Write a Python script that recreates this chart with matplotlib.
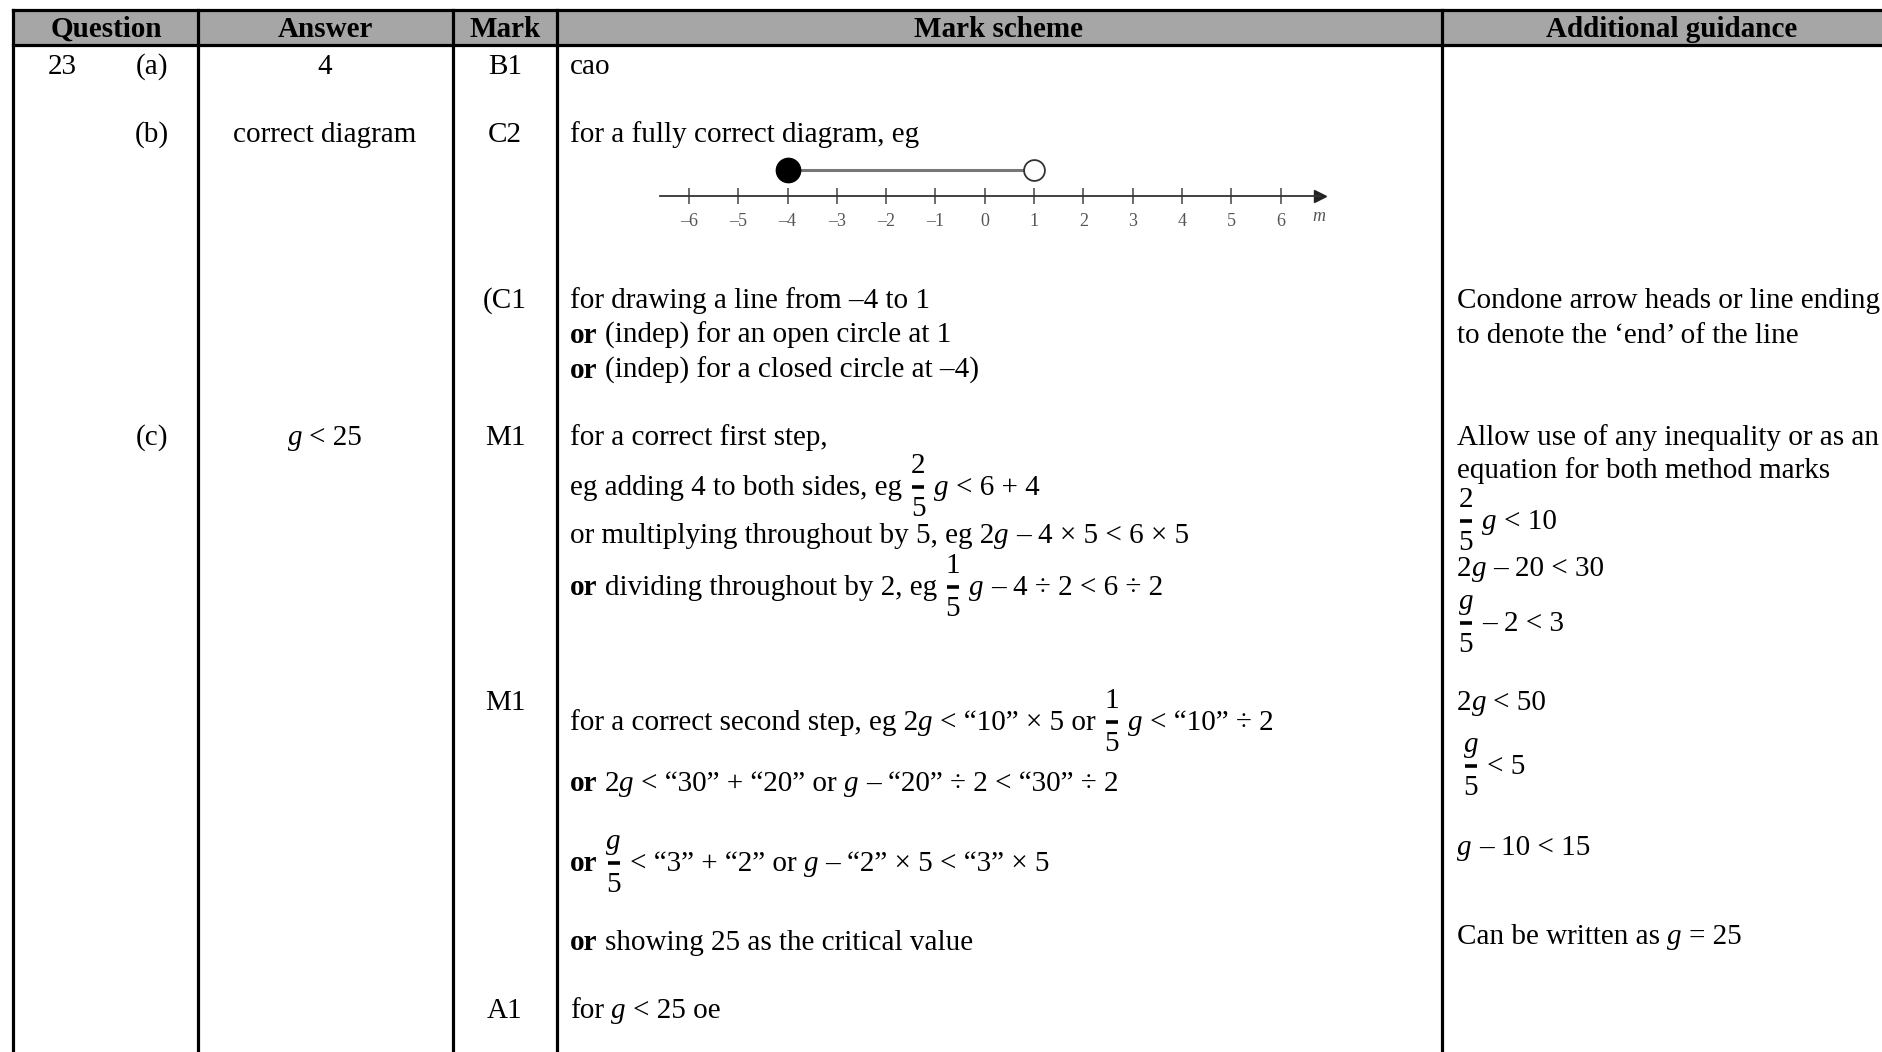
import matplotlib.pyplot as plt
from matplotlib.patches import Rectangle

# page is 1883 x 1052 px, drawn at dpi 100 so 1 data unit = 1 pixel
W, H = 1883, 1052
SERIF = "Liberation Serif"
FS = 21.0

# table layout (pixels)
col_edges = [13.5, 198, 453.5, 557, 1442]
top_y, head_y = 10, 44.5
headers = ["Question", "Answer", "Mark", "Mark scheme", "Additional guidance"]
header_x = [106, 325, 505, 999, 1672]

# number line in part (b)
nl_ticks = list(range(-6, 7))
nl_labels = [("\u2013%d" % -t) if t < 0 else str(t) for t in nl_ticks]
nl_closed = -4
nl_open = 1


def F(n, d, st="r"):
    return ("/", n, d, st)


g = ("g", "i")

# question / answer / mark columns: (baseline, text parts)
question_no = [(74, [("23", "r")])]
parts = [(74, [("(a)", "r")]), (142, [("(b)", "r")]), (445, [("(c)", "r")])]
answers = [(74, [("4", "r")]),
           (142, [("correct diagram", "r")]),
           (445, [g, (" < 25", "r")])]
marks = [(74, [("B1", "r")]), (142, [("C2", "r")]), (308, [("(C1", "r")]),
         (445, [("M1", "r")]), (710, [("M1", "r")]), (1018, [("A1", "r")])]

scheme = [
    (74, [("cao", "r")]),
    (142, [("for a fully correct diagram, eg", "r")]),
    (308, [("for drawing a line from \u20134 to 1", "r")]),
    (343, [("or", "b"), (" (indep) for an open circle at 1", "r")]),
    (377.5, [("or", "b"), (" (indep) for a closed circle at \u20134)", "r")]),
    (445, [("for a correct first step,", "r")]),
    (495, [("eg adding 4 to both sides, eg ", "r"), F("2", "5"), (" ", "r"), g,
           (" < 6 + 4", "r")]),
    (543, [("or multiplying throughout by 5, eg 2", "r"), g,
           (" \u2013 4 \u00d7 5 < 6 \u00d7 5", "r")]),
    (595, [("or", "b"), (" dividing throughout by 2, eg ", "r"), F("1", "5"), (" ", "r"), g,
           (" \u2013 4 \u00f7 2 < 6 \u00f7 2", "r")]),
    (730, [("for a correct second step, eg 2", "r"), g,
           (" < \u201c10\u201d \u00d7 5 or ", "r"), F("1", "5"), (" ", "r"), g,
           (" < \u201c10\u201d \u00f7 2", "r")]),
    (791, [("or", "b"), (" 2", "r"), g, (" < \u201c30\u201d + \u201c20\u201d or ", "r"), g,
           (" \u2013 \u201c20\u201d \u00f7 2 < \u201c30\u201d \u00f7 2", "r")]),
    (871, [("or", "b"), (" ", "r"), F("g", "5", "i"),
           (" < \u201c3\u201d + \u201c2\u201d or ", "r"), g,
           (" \u2013 \u201c2\u201d \u00d7 5 < \u201c3\u201d \u00d7 5", "r")]),
    (950, [("or", "b"), (" showing 25 as the critical value", "r")]),
    (1018, [("for ", "r"), g, (" < 25 oe", "r")]),
]

guidance = [
    (308, 1457, [("Condone arrow heads or line ending", "r")]),
    (343, 1457, [("to denote the \u2018end\u2019 of the line", "r")]),
    (445, 1457, [("Allow use of any inequality or as an", "r")]),
    (478, 1457, [("equation for both method marks", "r")]),
    (529, 1457, [F("2", "5"), (" ", "r"), g, (" < 10", "r")]),
    (576, 1457, [("2", "r"), g, (" \u2013 20 < 30", "r")]),
    (631, 1457, [F("g", "5", "i"), (" \u2013 2 < 3", "r")]),
    (710, 1457, [("2", "r"), g, (" < 50", "r")]),
    (774, 1462, [F("g", "5", "i"), (" < 5", "r")]),
    (855, 1457, [g, (" \u2013 10 < 15", "r")]),
    (944, 1457, [("Can be written as ", "r"), g, (" = 25", "r")]),
]

fig = plt.figure(figsize=(W / 100, H / 100), dpi=100)
ax = fig.add_axes([0, 0, 1, 1])
ax.set_xlim(0, W)
ax.set_ylim(H, 0)
ax.axis("off")
renderer = fig.canvas.get_renderer()


def font(st, size=FS):
    return dict(family=SERIF, fontsize=size,
                fontweight="bold" if st == "b" else "normal",
                fontstyle="italic" if st == "i" else "normal")


_cache = {}


def adv(s, st):
    # advance width in px, spaces included
    if not s:
        return 0.0
    key = (s, st)
    if key not in _cache:
        t = ax.text(0, 0, "|" + s + "|", **font(st))
        w = t.get_window_extent(renderer).width
        t.remove()
        t = ax.text(0, 0, "||", **font(st))
        w0 = t.get_window_extent(renderer).width
        t.remove()
        _cache[key] = w - w0
    return _cache[key]


def part_width(p):
    if p[0] == "/":
        return max(adv(p[1], p[3]), adv(p[2], "r")) + 3
    return adv(p[0], p[1])


def draw_line(x, y, line, ha="left"):
    if ha == "center":
        x = x - sum(part_width(p) for p in line) / 2
    for p in line:
        w = part_width(p)
        if p[0] == "/":
            cx = x + w / 2
            ax.text(cx, y - 22, p[1], ha="center", va="baseline", **font(p[3]))
            ax.text(cx, y + 21, p[2], ha="center", va="baseline", **font("r"))
            ax.plot([cx - 6, cx + 6], [y - 8, y - 8], color="black", lw=2.6,
                    solid_capstyle="butt")
        else:
            s, st = p
            lead = len(s) - len(s.lstrip(" "))
            if s.strip():
                ax.text(x + adv(s[:lead], st), y, s.strip(), ha="left", va="baseline",
                        **font(st))
        x += w


# header band and rules
ax.add_patch(Rectangle((col_edges[0], top_y), W - col_edges[0], head_y - top_y,
                       facecolor="#a6a6a6", edgecolor="none"))
ax.plot([col_edges[0], W], [top_y, top_y], color="black", lw=2.3)
ax.plot([col_edges[0], W], [head_y, head_y], color="black", lw=2.3)
for xe in col_edges:
    ax.plot([xe, xe], [top_y, H], color="black", lw=2.3)

for hx, htxt in zip(header_x, headers):
    ax.text(hx, 37, htxt, ha="center", va="baseline", **font("b"))

for y, line in question_no:
    draw_line(48, y, line)
for y, line in parts:
    draw_line(152, y, line, ha="center")
for y, line in answers:
    draw_line(325, y, line, ha="center")
for y, line in marks:
    draw_line(505, y, line, ha="center")
for y, line in scheme:
    draw_line(570, y, line)
for y, x, line in guidance:
    draw_line(x, y, line)

# number line (pixel box 660..1320 wide, 146..246 tall)
nl = fig.add_axes([660 / W, 1 - 246 / H, 660 / W, 100 / H])
x_lo, x_hi = -6.588, 6.8
nl.set_xlim(x_lo, x_hi)
nl.set_ylim(-1, 1)
nl.patch.set_visible(False)
for s in ["top", "right", "left"]:
    nl.spines[s].set_visible(False)
nl.spines["bottom"].set_position(("data", 0))
nl.spines["bottom"].set_color("#333333")
nl.spines["bottom"].set_linewidth(1.3)
nl.set_yticks([])
nl.set_xticks(nl_ticks)
nl.set_xticklabels(nl_labels, family=SERIF, fontsize=13, color="#555555")
nl.tick_params(axis="x", direction="inout", length=12, width=1.1, color="#444444", pad=6.5)
nl.plot([x_hi], [0], marker=">", ms=9, color="#222222", clip_on=False)
nl.text(6.77, -0.42, "m", family=SERIF, fontstyle="italic", fontsize=13, color="#555555",
        ha="center", va="center")
nl.plot([nl_closed, nl_open], [0.51, 0.51], color="#777777", lw=2.2, zorder=2)
nl.plot([nl_closed], [0.51], marker="o", ms=17.5, color="black", zorder=3, clip_on=False)
nl.plot([nl_open], [0.51], marker="o", ms=15, mfc="white", mec="#333333", mew=1.3,
        zorder=3, clip_on=False)

fig.savefig("out.png", dpi=100)
